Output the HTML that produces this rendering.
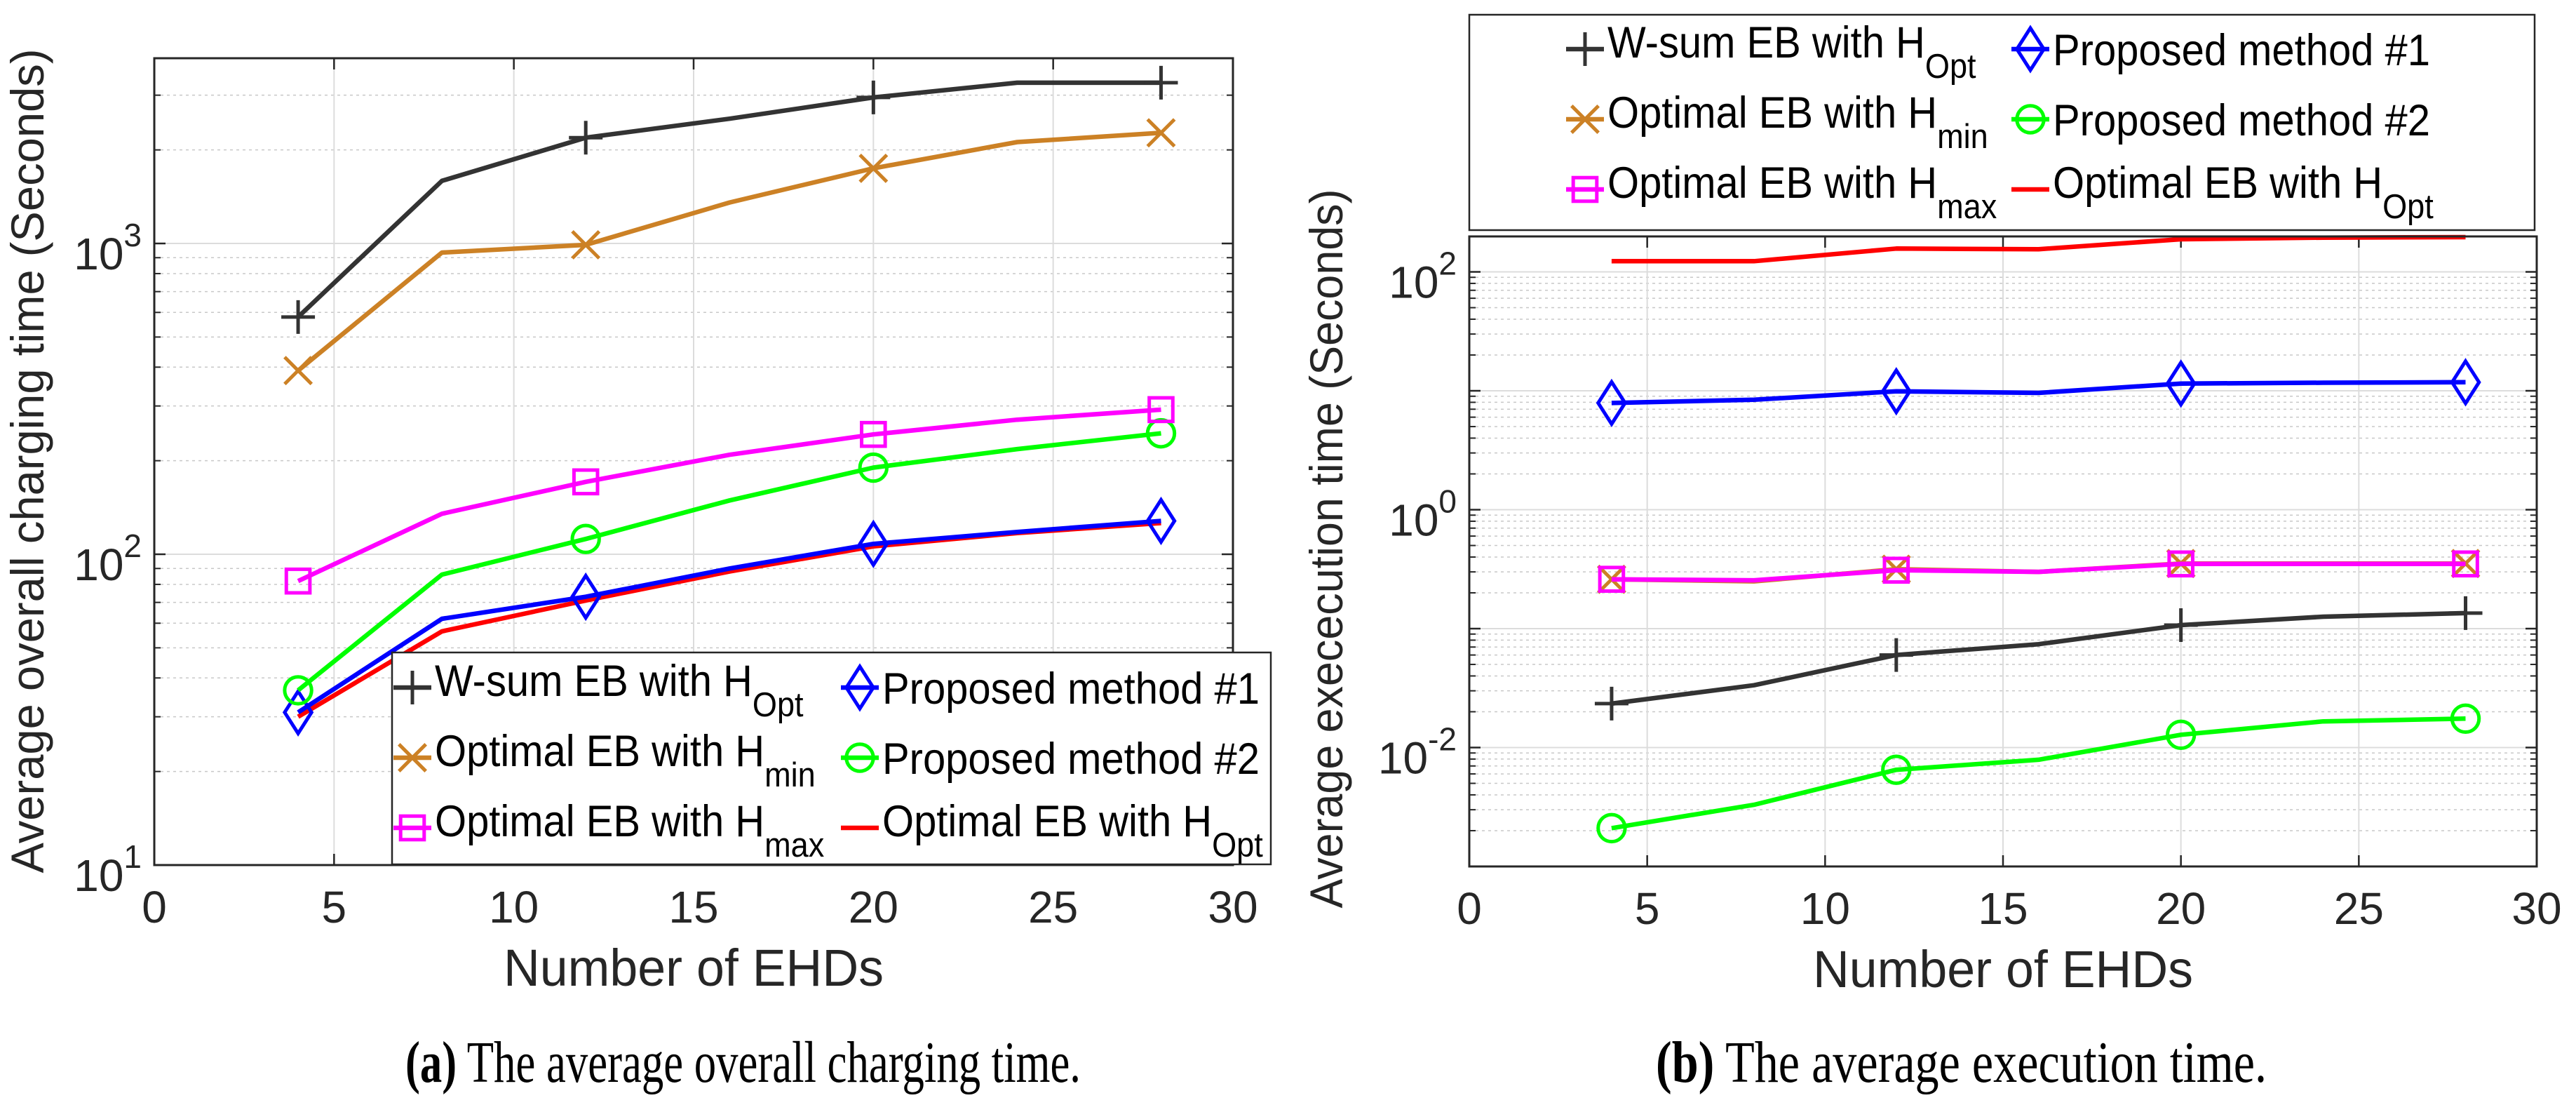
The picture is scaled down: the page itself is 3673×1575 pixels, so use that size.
<!DOCTYPE html>
<html><head><meta charset="utf-8"><style>
html,body{margin:0;padding:0;background:#fff}
svg{display:block}
text{font-family:"Liberation Sans",Arial,sans-serif}
.cap{font-family:"Liberation Serif","Times New Roman",serif}
</style></head><body>
<svg id="fig" width="3673" height="1575" viewBox="0 0 3673 1575" xmlns="http://www.w3.org/2000/svg">
<rect width="3673" height="1575" fill="#fff"/>
</svg>
<script>
const xCats=[4,8,12,16,20,24,28];
const xTicks=[0,5,10,15,20,25,30];
// chart (a)
const aWsum=[580,1590,2190,2520,2950,3290,3290];
const aHmin=[390,935,990,1355,1745,2120,2270];
const aHmax=[82,135,171,209,243,271,292];
const aPM2=[36.5,86,112,149,190,218,245];
const aPM1=[31,62,73,90,108,118,128];
const aHopt=[30,56.5,71,88,106,117,126];
const aYDecades=[1,2,3];
// chart (b)
const bHopt=[123,123,157,155,188,194,196];
const bPM1=[7.9,8.4,9.9,9.6,11.5,11.7,11.8];
const bHmin=[0.26,0.25,0.316,0.30,0.353,0.353,0.353];
const bHmax=[0.26,0.255,0.31,0.30,0.35,0.35,0.35];
const bWsum=[0.0234,0.0334,0.060,0.074,0.107,0.126,0.135];
const bPM2=[0.0021,0.0033,0.0065,0.0079,0.0128,0.0166,0.0175];
const bYDecades=[-2,0,2];

const NS="http://www.w3.org/2000/svg";
const svg=document.getElementById('fig');
function mk(tag,attrs,parent){const e=document.createElementNS(NS,tag);for(const k in attrs)e.setAttribute(k,attrs[k]);(parent||svg).appendChild(e);return e;}

const C={wsum:'#333333',hmin:'#CC8125',hmax:'#FF00FF',pm2:'#00FF00',pm1:'#0000FF',hopt:'#FF0000'};

function marker(g,type,x,y,col,s){
  const sw=5;
  if(type==='plus'){mk('path',{d:`M${x-s} ${y}H${x+s}M${x} ${y-s}V${y+s}`,stroke:col,'stroke-width':sw,fill:'none'},g);}
  else if(type==='x'){const d=s*0.8;mk('path',{d:`M${x-d} ${y-d}L${x+d} ${y+d}M${x-d} ${y+d}L${x+d} ${y-d}`,stroke:col,'stroke-width':sw,fill:'none'},g);}
  else if(type==='sq'){const d=s*0.7;mk('rect',{x:x-d,y:y-d,width:2*d,height:2*d,stroke:col,'stroke-width':sw,fill:'none'},g);}
  else if(type==='circ'){mk('circle',{cx:x,cy:y,r:s*0.8,stroke:col,'stroke-width':sw,fill:'none'},g);}
  else if(type==='dia'){const w=s*0.8,h=s*1.25;mk('path',{d:`M${x} ${y-h}L${x+w} ${y}L${x} ${y+h}L${x-w} ${y}Z`,stroke:col,'stroke-width':sw,fill:'none'},g);}
}

function chart(id,ax,series,decades,legend,ylabel,caption){
  const g=mk('g',{});
  
  
  const X=v=>ax.x0+(v-0)/30*(ax.x1-ax.x0);
  const Y=v=>ax.y1-(Math.log10(v)-ax.lmin)/(ax.lmax-ax.lmin)*(ax.y1-ax.y0);
  const grid=mk('g',{},g);
  
  
  for(let d=Math.floor(ax.lmin);d<=Math.ceil(ax.lmax);d++){
    for(let m=1;m<=9;m++){
      const v=m*Math.pow(10,d);const lv=Math.log10(v);
      if(lv<ax.lmin-1e-9||lv>ax.lmax+1e-9)continue;
      const y=Y(v);
      if(m===1){
        mk('line',{x1:ax.x0,x2:ax.x1,y1:y,y2:y,stroke:'#dcdcdc','stroke-width':2},grid);
        mk('line',{x1:ax.x0,x2:ax.x0+16,y1:y,y2:y,stroke:'#262626','stroke-width':2.5},grid);
        mk('line',{x1:ax.x1,x2:ax.x1-16,y1:y,y2:y,stroke:'#262626','stroke-width':2.5},grid);
      }else{
        mk('line',{x1:ax.x0,x2:ax.x1,y1:y,y2:y,stroke:'#c8c8c8','stroke-width':1.5,'stroke-dasharray':'4 5'},grid);
        mk('line',{x1:ax.x0,x2:ax.x0+9,y1:y,y2:y,stroke:'#262626','stroke-width':2},grid);
        mk('line',{x1:ax.x1,x2:ax.x1-9,y1:y,y2:y,stroke:'#262626','stroke-width':2},grid);
      }
    }
  }
  xTicks.forEach(t=>{
    const x=X(t);
    if(t>0&&t<30)mk('line',{x1:x,x2:x,y1:ax.y0,y2:ax.y1,stroke:'#dcdcdc','stroke-width':2},grid);
    mk('line',{x1:x,x2:x,y1:ax.y1,y2:ax.y1-16,stroke:'#262626','stroke-width':2.5},grid);
    mk('line',{x1:x,x2:x,y1:ax.y0,y2:ax.y0+16,stroke:'#262626','stroke-width':2.5},grid);
    const tl=mk('text',{x:x,y:ax.y1+82,'font-size':64,'text-anchor':'middle',fill:'#262626'},g);
    
    
    tl.textContent=t;
  });
  decades.forEach(d=>{
    const y=Y(Math.pow(10,d));
    const tl=mk('text',{x:ax.x0-18,y:y+37,'font-size':64,'text-anchor':'end',fill:'#262626'},g);
    
    
    const a=mk('tspan',{},tl);a.textContent='10';
    const b=mk('tspan',{'font-size':46,dy:-33},tl);b.textContent=String(d);
  });
  series.forEach(s=>{
    const sg=mk('g',{},g);
    
    
    const pts=xCats.map((c,i)=>X(c).toFixed(1)+','+Y(s.vals[i]).toFixed(1)).join(' ');
    const pl=mk('polyline',{points:pts,fill:'none',stroke:s.col,'stroke-width':6.5,'stroke-linejoin':'round'},sg);
    
    
    if(s.mk){xCats.forEach((c,i)=>{if(i%2===0)marker(sg,s.mk,X(c),Y(s.vals[i]),s.col,24);});}
  });
  const box=mk('rect',{x:ax.x0,y:ax.y0,width:ax.x1-ax.x0,height:ax.y1-ax.y0,fill:'none',stroke:'#262626','stroke-width':3},g);
  
  
  const lg=mk('g',{},g);
  
  
  mk('rect',{x:legend.x0,y:legend.y0,width:legend.x1-legend.x0,height:legend.y1-legend.y0,fill:'#fff',stroke:'#262626','stroke-width':2.5},lg);
  legend.items.forEach(it=>{
    const eg=mk('g',{},lg);
    
    
    const mx=it.mx,my=it.my;
    mk('line',{x1:mx-27,x2:mx+27,y1:my,y2:my,stroke:it.col,'stroke-width':6.5},eg);
    if(it.mk)marker(eg,it.mk,mx,my,it.col,24);
    const tx=mx+32;
    const t=mk('text',{x:0,y:0,'font-size':63,fill:'#000',transform:`translate(${tx},${my+(it.sub?12:23)}) scale(0.92,1)`},eg);
    const a=mk('tspan',{},t);a.textContent=it.txt;
    if(it.sub){const b=mk('tspan',{'font-size':49,dy:29},t);b.textContent=it.sub;}
  });
  const yl=mk('text',{x:0,y:0,'font-size':66,'text-anchor':'middle',fill:'#262626',transform:`translate(${ylabel.x},${ylabel.y}) rotate(-90)`,textLength:ylabel.len,lengthAdjust:'spacingAndGlyphs'},g);
  
  
  yl.textContent=ylabel.text;
  const xl=mk('text',{x:(ax.x0+ax.x1)/2,y:ax.y1+172,'font-size':74,'text-anchor':'middle',fill:'#262626',textLength:542,lengthAdjust:'spacingAndGlyphs'},g);
  
  
  xl.textContent='Number of EHDs';
  const cp=mk('text',{x:caption.x,y:1542,'font-size':84,fill:'#000','class':'cap',textLength:caption.len,lengthAdjust:'spacingAndGlyphs'},g);
  
  
  const c1=mk('tspan',{'font-weight':'bold'},cp);c1.textContent=caption.tag;
  const c2=mk('tspan',{},cp);c2.textContent=' '+caption.text;
}

chart('chart-a-charging-time',{x0:220,x1:1758,y0:83,y1:1233,lmin:1,lmax:3.596},
 [{name:'hopt',vals:aHopt,col:C.hopt,mk:null},{name:'pm1',vals:aPM1,col:C.pm1,mk:'dia'},
  {name:'pm2',vals:aPM2,col:C.pm2,mk:'circ'},{name:'hmax',vals:aHmax,col:C.hmax,mk:'sq'},
  {name:'hmin',vals:aHmin,col:C.hmin,mk:'x'},{name:'wsum',vals:aWsum,col:C.wsum,mk:'plus'}],
 aYDecades,
 {x0:559,x1:1812,y0:930,y1:1232,items:[
  {mx:588,my:980,col:C.wsum,mk:'plus',txt:'W-sum EB with H',sub:'Opt'},
  {mx:588,my:1080,col:C.hmin,mk:'x',txt:'Optimal EB with H',sub:'min'},
  {mx:588,my:1180,col:C.hmax,mk:'sq',txt:'Optimal EB with H',sub:'max'},
  {mx:1226,my:980,col:C.pm1,mk:'dia',txt:'Proposed method #1',sub:null},
  {mx:1226,my:1080,col:C.pm2,mk:'circ',txt:'Proposed method #2',sub:null},
  {mx:1226,my:1180,col:C.hopt,mk:null,txt:'Optimal EB with H',sub:'Opt'}]},
 {x:62,y:657,len:1175,text:'Average overall charging time (Seconds)'},
 {x:578,len:963,tag:'(a)',text:'The average overall charging time.'});

chart('chart-b-execution-time',{x0:2095,x1:3617,y0:337,y1:1235,lmin:-3,lmax:2.298},
 [{name:'hopt',vals:bHopt,col:C.hopt,mk:null},{name:'pm1',vals:bPM1,col:C.pm1,mk:'dia'},
  {name:'hmin',vals:bHmin,col:C.hmin,mk:'x'},{name:'hmax',vals:bHmax,col:C.hmax,mk:'sq'},
  {name:'wsum',vals:bWsum,col:C.wsum,mk:'plus'},{name:'pm2',vals:bPM2,col:C.pm2,mk:'circ'}],
 bYDecades,
 {x0:2095,x1:3614,y0:21,y1:328,items:[
  {mx:2260,my:70,col:C.wsum,mk:'plus',txt:'W-sum EB with H',sub:'Opt'},
  {mx:2260,my:170,col:C.hmin,mk:'x',txt:'Optimal EB with H',sub:'min'},
  {mx:2260,my:270,col:C.hmax,mk:'sq',txt:'Optimal EB with H',sub:'max'},
  {mx:2895,my:70,col:C.pm1,mk:'dia',txt:'Proposed method #1',sub:null},
  {mx:2895,my:170,col:C.pm2,mk:'circ',txt:'Proposed method #2',sub:null},
  {mx:2895,my:270,col:C.hopt,mk:null,txt:'Optimal EB with H',sub:'Opt'}]},
 {x:1914,y:782,len:1025,text:'Average exececution time (Seconds)'},
 {x:2361,len:871,tag:'(b)',text:'The average execution time.'});
</script>
</body></html>
